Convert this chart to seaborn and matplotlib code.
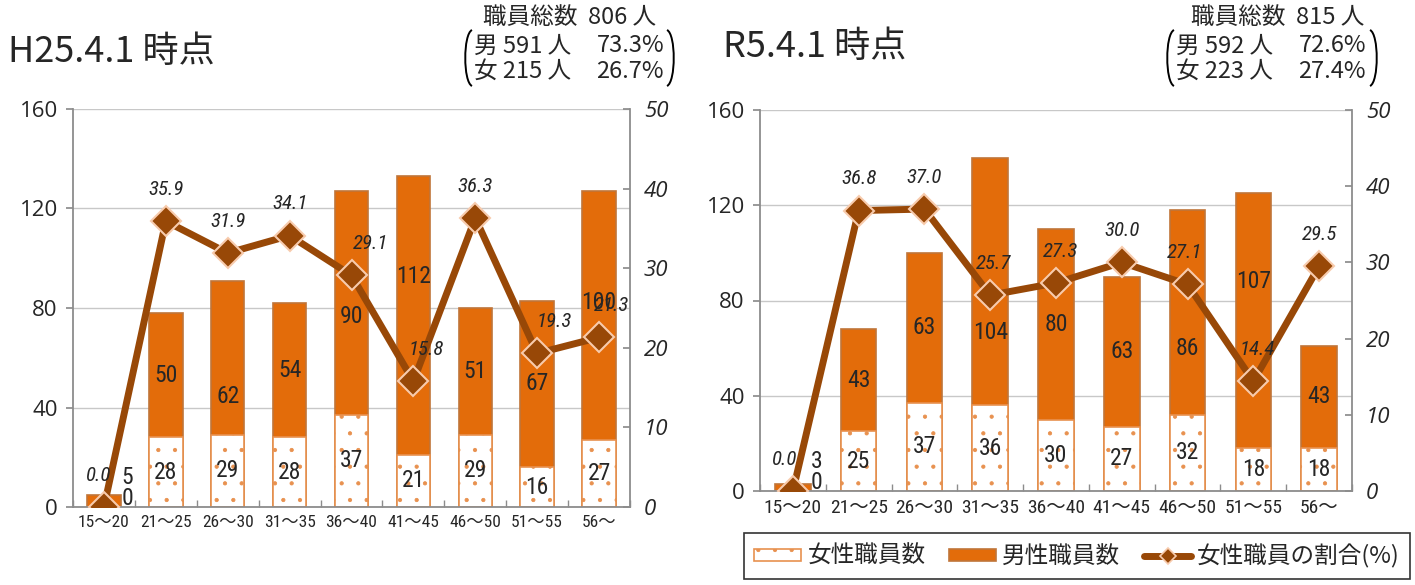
import numpy as np
import matplotlib
matplotlib.use('Agg')
import matplotlib.pyplot as plt
from matplotlib.patches import Patch, PathPatch
from matplotlib.lines import Line2D
from matplotlib.path import Path
import seaborn as sns

# ---- data ----
ages = ['15～20', '21～25', '26～30', '31～35', '36～40', '41～45', '46～50', '51～55', '56～']

h25_female = [0, 28, 29, 28, 37, 21, 29, 16, 27]
h25_male = [5, 50, 62, 54, 90, 112, 51, 67, 100]
h25_ratio = [0.0, 35.9, 31.9, 34.1, 29.1, 15.8, 36.3, 19.3, 21.3]

r5_female = [0, 25, 37, 36, 30, 27, 32, 18, 18]
r5_male = [3, 43, 63, 104, 80, 63, 86, 107, 43]
r5_ratio = [0.0, 36.8, 37.0, 25.7, 27.3, 30.0, 27.1, 14.4, 29.5]

h25_title = 'H25.4.1 時点'
r5_title = 'R5.4.1 時点'
h25_total = '職員総数  806 人'
h25_rows = [('男 591 人', '73.3%'), ('女 215 人', '26.7%')]
r5_total = '職員総数  815 人'
r5_rows = [('男 592 人', '72.6%'), ('女 223 人', '27.4%')]

legend_labels = ['女性職員数', '男性職員数', '女性職員の割合(%)']

# label nudges (points) -- the original chart had some labels moved by hand
h25_male_dy = [0, 0, -28, 0, -10, 28, 0, 0, 9]
r5_male_dy = [0, 0, 0, -37, 0, 0, -26, 28, 0]
h25_ratio_dx = [-4, 0, 0, 0, 14, 9, 0, 12, 9]
r5_ratio_dx = [-6, 0, 0, 2, 3, 0, -2, 3, 0]

MALE = '#E36C0A'
MALE_EDGE = '#C0753A'
FEMALE_EDGE = '#E8914F'
LINE = '#984807'
MARK_EDGE = '#F8CBAD'
GRID = '#C8C8C8'
SPINE = '#8C8C8C'

NARROW = ['Roboto Condensed', 'Archivo Narrow', 'Liberation Sans Narrow', 'DejaVu Sans']
CJK = ['Noto Sans CJK JP', 'DejaVu Sans']

sns.set_theme(style='white')
plt.rcParams['font.family'] = CJK
plt.rcParams['hatch.linewidth'] = 0.6

W, H = 1415, 585
fig = plt.figure(figsize=(W / 100, H / 100), dpi=100)


def fx(px):
    return px / W


def fy(py):
    return 1 - py / H


def draw(ax, female, male, ratio, male_dy, ratio_dx, xsize):
    total = [f + m for f, m in zip(female, male)]
    sns.barplot(x=ages, y=total, color=MALE, edgecolor=MALE_EDGE, linewidth=1.2,
                width=0.54, saturation=1, ax=ax, zorder=2)
    sns.barplot(x=ages, y=female, color='white', edgecolor=FEMALE_EDGE, linewidth=1.2,
                hatch='.', width=0.54, saturation=1, ax=ax, zorder=2)
    ax.set_ylim(0, 160)
    ax.set_yticks(range(0, 161, 40))
    ax.set_yticklabels([str(v) for v in range(0, 161, 40)], fontsize=16, family=['Open Sans', 'DejaVu Sans'])
    ax.yaxis.grid(True, color=GRID, lw=1)
    ax.set_axisbelow(True)
    ax.set_xlabel('')
    ax.set_ylabel('')
    ax.set_xticks(range(len(ages)))
    ax.set_xticklabels(ages, family=NARROW[:-1] + ['Noto Sans CJK JP'], fontsize=xsize)
    ax.set_xticks(np.arange(-0.5, len(ages), 1), minor=True)
    ax.tick_params(axis='x', which='major', length=0, pad=6)
    ax.tick_params(axis='x', which='minor', direction='in', length=5, color=SPINE, bottom=True)
    ax.tick_params(axis='y', direction='out', length=5, color=SPINE, left=True, pad=6)
    for s in ['top', 'right']:
        ax.spines[s].set_visible(False)
    for s in ['left', 'bottom']:
        ax.spines[s].set_color(SPINE)
        ax.spines[s].set_linewidth(1.3)

    for i, (f, m) in enumerate(zip(female, male)):
        if f + m < 10:
            ax.annotate(str(f), (i, 0), xytext=(17, 6), textcoords='offset points',
                        ha='center', va='center', fontsize=17, family=NARROW)
            ax.annotate(str(m), (i, 0), xytext=(17, 21), textcoords='offset points',
                        ha='center', va='center', fontsize=17, family=NARROW)
            continue
        ax.annotate(str(f), (i, f / 2), xytext=(0, 0), textcoords='offset points',
                    ha='center', va='center', fontsize=17, family=NARROW)
        ax.annotate(str(m), (i, f + m / 2), xytext=(0, male_dy[i]), textcoords='offset points',
                    ha='center', va='center', fontsize=17, family=NARROW)

    ax2 = ax.twinx()
    sns.pointplot(x=ages, y=ratio, color=LINE, markers='D', errorbar=None, ax=ax2,
                  linewidth=5, markersize=15, markeredgecolor=MARK_EDGE, markeredgewidth=1.5)
    ax2.set_ylim(0, 50)
    ax2.set_yticks(range(0, 51, 10))
    ax2.set_yticklabels([str(v) for v in range(0, 51, 10)], style='italic', fontsize=16,
                        family=['Open Sans', 'DejaVu Sans'])
    ax2.set_ylabel('')
    ax2.set_xlabel('')
    ax2.grid(False)
    ax2.tick_params(axis='y', direction='in', length=5, color=SPINE, right=True, pad=10)
    for s in ['top', 'left', 'bottom']:
        ax2.spines[s].set_visible(False)
    ax2.spines['right'].set_color(SPINE)
    ax2.spines['right'].set_linewidth(1.3)
    for i, v in enumerate(ratio):
        ax2.annotate(f'{v:.1f}', (i, v), xytext=(ratio_dx[i], 23), textcoords='offset points',
                     ha='center', va='center', fontsize=15, style='italic', family=NARROW)
    return ax2


def bracket(x0, x1, y0, y1):
    w = 7
    codes = [Path.MOVETO, Path.CURVE4, Path.CURVE4, Path.CURVE4]
    left = Path([(fx(x0 + w), fy(y0)), (fx(x0 - 2), fy(y0 + 4)),
                 (fx(x0 - 2), fy(y1 - 4)), (fx(x0 + w), fy(y1))], codes)
    right = Path([(fx(x1 - w), fy(y0)), (fx(x1 + 2), fy(y0 + 4)),
                  (fx(x1 + 2), fy(y1 - 4)), (fx(x1 - w), fy(y1))], codes)
    for p in (left, right):
        fig.add_artist(PathPatch(p, fill=False, lw=1.4, color='black', transform=fig.transFigure))


def summary(total, rows, cx, lx, rx, x0, x1):
    fig.text(fx(cx), fy(18), total, ha='center', va='center', fontsize=17)
    for (who, pct), y in zip(rows, (46, 71)):
        fig.text(fx(lx), fy(y), who, ha='left', va='center', fontsize=17)
        fig.text(fx(rx), fy(y), pct, ha='right', va='center', fontsize=17)
    bracket(x0, x1, 30, 86)


ax_l = fig.add_axes([fx(73), fy(507), fx(630) - fx(73), fy(109) - fy(507)])
ax_r = fig.add_axes([fx(760), fy(491), fx(1352) - fx(760), fy(110) - fy(491)])

draw(ax_l, h25_female, h25_male, h25_ratio, h25_male_dy, h25_ratio_dx, 12.5)
draw(ax_r, r5_female, r5_male, r5_ratio, r5_male_dy, r5_ratio_dx, 14)

fig.text(fx(8), fy(52), h25_title, ha='left', va='center', fontsize=26)
fig.text(fx(723), fy(47), r5_title, ha='left', va='center', fontsize=26)
summary(h25_total, h25_rows, 570, 474, 664, 465, 674)
summary(r5_total, r5_rows, 1278, 1176, 1366, 1167, 1377)

handles = [
    Patch(facecolor='white', edgecolor=FEMALE_EDGE, hatch='.', lw=1.2),
    Patch(facecolor=MALE, edgecolor=MALE_EDGE, lw=1.2),
    Line2D([], [], color=LINE, lw=5, marker='D', markersize=8,
           markerfacecolor=LINE, markeredgecolor=MARK_EDGE, markeredgewidth=1.2),
]
leg = fig.legend(handles, legend_labels, loc='center', bbox_to_anchor=(fx(1077), fy(556)),
                 ncol=3, frameon=True, fancybox=False, edgecolor='black', fontsize=17,
                 handlelength=2.0, handleheight=0.4, handletextpad=0.25, columnspacing=1.0,
                 borderpad=0.45)
leg.get_frame().set_linewidth(1.2)
leg.get_texts()[2].set_style('italic')

fig.savefig('out.png', dpi=100)
